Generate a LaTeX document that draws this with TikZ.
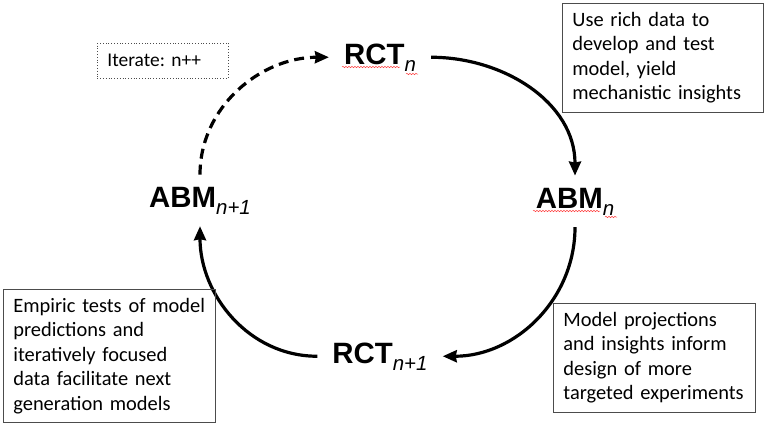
\documentclass[tikz,border=0pt]{standalone}
\usepackage{fontspec}
\usepackage{tikz}
\usetikzlibrary{arrows.meta,decorations.pathmorphing}
\newfontfamily\arialfont{Liberation Sans}
\newfontfamily\calfont{Carlito}
\newcommand{\stage}[2]{#1\raisebox{-7bp}{\fontsize{20.5}{20.5}\selectfont\mdseries\itshape #2}}
\frenchspacing

\begin{document}
\begin{tikzpicture}[x=1bp,y=1bp,
    stage/.style={anchor=base,inner xsep=15bp,inner ysep=12bp,
      font=\arialfont\bfseries\fontsize{29.5}{29.5}\selectfont},
    note/.style={draw=black!70,line width=0.8bp,anchor=north west,align=left,
      inner xsep=10bp,inner ysep=9bp,font=\calfont\fontsize{20.5}{24.5}\selectfont},
    cycle/.style={line width=3.2bp,-{Stealth[length=14bp,width=12bp,inset=1bp]}},
    squiggle/.style={red!75,line width=0.5bp,decorate,
      decoration={snake,amplitude=0.7bp,segment length=3bp}}]
  \useasboundingbox (0,0) rectangle (767,-428);

  % stages of the cycle
  \node[stage] (rct) at (380,-64) {\stage{RCT}{n}};
  \node[stage] (abm) at (575,-208) {\stage{ABM}{n}};
  \node[stage] (rct1) at (380,-363) {\stage{RCT}{n+1}};
  \node[stage] (abm1) at (200,-207) {\stage{ABM}{n+1}};

  % spell-check marks
  \draw[squiggle] ([shift={(-38,-3)}]rct.base) -- ++(58,0);
  \draw[squiggle] ([shift={(26,-10)}]rct.base) -- ++(12,0);
  \draw[squiggle] ([shift={(-42,-3)}]abm.base) -- ++(67,0);
  \draw[squiggle] ([shift={(30,-9)}]abm.base) -- ++(12,0);

  \path[cycle] (rct) edge[out=0,in=90] (abm)
    (abm) edge[out=-90,in=0] (rct1)
    (rct1) edge[out=180,in=-90] (abm1)
    (abm1) edge[out=90,in=180,dash pattern=on 10bp off 6bp] (rct);

  % notes
  \node[note,dotted,inner ysep=11bp,text width=111bp,font=\calfont\fontsize{19.5}{23}\selectfont]
    (iter) at (97,-43) {Iterate: n++};
  \node[note,text width=181bp] (rich) at (562,-3)
    {Use rich data to\\develop and test\\model, yield\\mechanistic insights};
  \node[note,text width=182bp] (proj) at (553,-303)
    {Model projections\\and insights inform\\design of more\\targeted experiments};
  \node[note,text width=192bp] (emp) at (3,-289)
    {Empiric tests of model\\predictions and\\iteratively focused\\data facilitate next\\generation models};
\end{tikzpicture}
\end{document}
